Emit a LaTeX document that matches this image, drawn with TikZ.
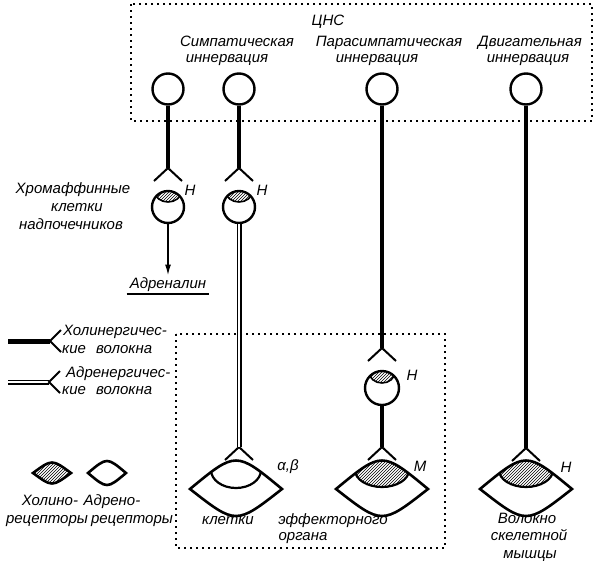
\documentclass[tikz,border=0pt]{standalone}
\usepackage{fontspec}
\setmainfont{Liberation Sans}
\usetikzlibrary{patterns,arrows.meta}
\tikzset{>={Latex[length=11pt,width=6pt]},
    soma/.style={circle, draw, line width=2.4pt, minimum size=31pt, inner sep=0pt},
    chol/.style={line width=4pt},
    adren/.style={double, double distance=2.2pt, line width=1.4pt},
    leg/.style={line width=2pt},
    lens/.style={line width=2.6pt},
    cnsbox/.style={line width=1.8pt, dash pattern=on 1.8pt off 4.2pt},
    lbl/.style={font=\fontsize{15}{17}\selectfont\itshape, inner sep=0pt, text height=10pt, text depth=2.5pt}
}

\begin{document}
\begin{tikzpicture}[x=1pt,y=-1pt]
    \useasboundingbox (0,0) rectangle (597,568);

    \draw[cnsbox] (131,4) rectangle (592,121);
    \draw[cnsbox] (176,334) rectangle (445,548);

    \node[lbl] (cns) at (328,22) {ЦНС};
    \node[lbl] (symp1) at (237,43) {Симпатическая};
    \node[lbl] (symp2) at (227,59) {иннервация};
    \node[lbl] (para1) at (389,43) {Парасимпатическая};
    \node[lbl] (para2) at (377,59) {иннервация};
    \node[lbl] (mot1) at (530,43) {Двигательная};
    \node[lbl] (mot2) at (528,59) {иннервация};

    \node[soma] (s1) at (168,89) {};
    \node[soma] (s2) at (239,89) {};
    \node[soma] (s3) at (382,89) {};
    \node[soma] (s4) at (526,89) {};

    \coordinate (f1) at (168,168);
    \coordinate (f2) at (239,168);
    \coordinate (f3) at (382,348);
    \coordinate (f4) at (239,447);
    \coordinate (f5) at (382,447);
    \coordinate (f6) at (526,448);

    \draw[chol] (s1) -- (f1);
    \draw[chol] (s2) -- (f2);
    \draw[chol] (s3) -- (f3);
    \draw[chol] (s4) -- (f6);
    \foreach \f in {f1,f2,f3,f4,f5,f6}
        \draw[leg] (\f) ++(-14,13) -- (\f) -- ++(14,13);

    % chromaffin cells and ganglion
    \node[soma, minimum size=32pt] (c1) at (168,207) {};
    \node[soma, minimum size=32pt] (c2) at (239,207) {};
    \node[soma, minimum size=34pt] (g) at (382,388) {};
    \foreach \c/\r in {c1/15, c2/15, g/16} {
        \begin{scope}
            \clip (\c) circle [radius=\r];
            \draw[line width=1.6pt, pattern=north east lines] (\c) ++(0,-\r) ellipse [x radius=13, y radius=\r-5];
        \end{scope}
    }
    \node[lbl] (h1) at (190,192) {Н};
    \node[lbl] (h2) at (262,192) {Н};
    \node[lbl] (h3) at (412,377) {Н};

    \node[lbl] (chr1) at (73,190) {Хромаффинные};
    \node[lbl] (chr2) at (77,208) {клетки};
    \node[lbl] (chr3) at (71,226) {надпочечников};

    \node[lbl, inner sep=3pt] (adr) at (168,285) {Адреналин};
    \draw[->, line width=1.6pt] (c1) -- (adr);
    \draw[line width=2pt] (adr.south west) -- (adr.south east);

    \draw[adren] (c2) -- (f4);
    \draw[chol] (g) -- (f5);

    % effector organs
    \foreach \x in {236,382,526}
        \draw[lens] (\x-46,489) .. controls (\x,451) .. (\x+46,489) .. controls (\x,525) .. cycle;
    \begin{scope}
        \clip (190,489) .. controls (236,451) .. (282,489) .. controls (236,525) .. cycle;
        \draw[lens, line width=2.2pt] (236,470) ellipse [x radius=25, y radius=18];
    \end{scope}
    \foreach \x in {382,526} {
        \begin{scope}
            \clip (\x-46,489) .. controls (\x,451) .. (\x+46,489) .. controls (\x,525) .. cycle;
            \draw[lens, line width=2.2pt, pattern=north east lines] (\x,470) ellipse [x radius=27, y radius=17];
        \end{scope}
    }
    \node[lbl] (ab) at (288,467) {α,β};
    \node[lbl] (m) at (420,468) {М};
    \node[lbl] (h4) at (566,469) {Н};

    \node[lbl] (eff1) at (228,521) {клетки};
    \node[lbl] (eff2) at (333,521) {эффекторного};
    \node[lbl] (eff3) at (303,537) {органа};
    \node[lbl] (mus1) at (527,520) {Волокно};
    \node[lbl] (mus2) at (529,537) {скелетной};
    \node[lbl] (mus3) at (530,555) {мышцы};

    % legend
    \coordinate (k0) at (8,341);
    \coordinate (k1) at (50,341);
    \draw[chol, line width=5pt] (k0) -- (k1);
    \draw[leg] (k1) ++(11,-11) -- (k1) -- ++(11,11);
    \node[lbl, anchor=west] (kt1) at (63,332) {Холинергичес-};
    \node[lbl, anchor=west] (kt2) at (62,350) {кие\hspace{6pt} волокна};

    \coordinate (a0) at (8,382);
    \coordinate (a1) at (49,382);
    \draw[adren] (a0) -- (a1);
    \draw[leg] (a1) ++(11,-11) -- (a1) -- ++(11,11);
    \node[lbl, anchor=west] (at1) at (66,374) {Адренергичес-};
    \node[lbl, anchor=west] (at2) at (62,391) {кие\hspace{6pt} волокна};

    \draw[lens, pattern=north east lines] (33,473) .. controls (52,459) .. (71,473) .. controls (52,487) .. cycle;
    \draw[lens] (88,473) .. controls (107,457) .. (126,473) .. controls (107,489) .. cycle;
    \node[lbl] (rc1) at (50,502) {Холино-};
    \node[lbl] (rc2) at (47,520) {рецепторы};
    \node[lbl] (rc3) at (112,502) {Адрено-};
    \node[lbl] (rc4) at (132,520) {рецепторы};
\end{tikzpicture}
\end{document}
